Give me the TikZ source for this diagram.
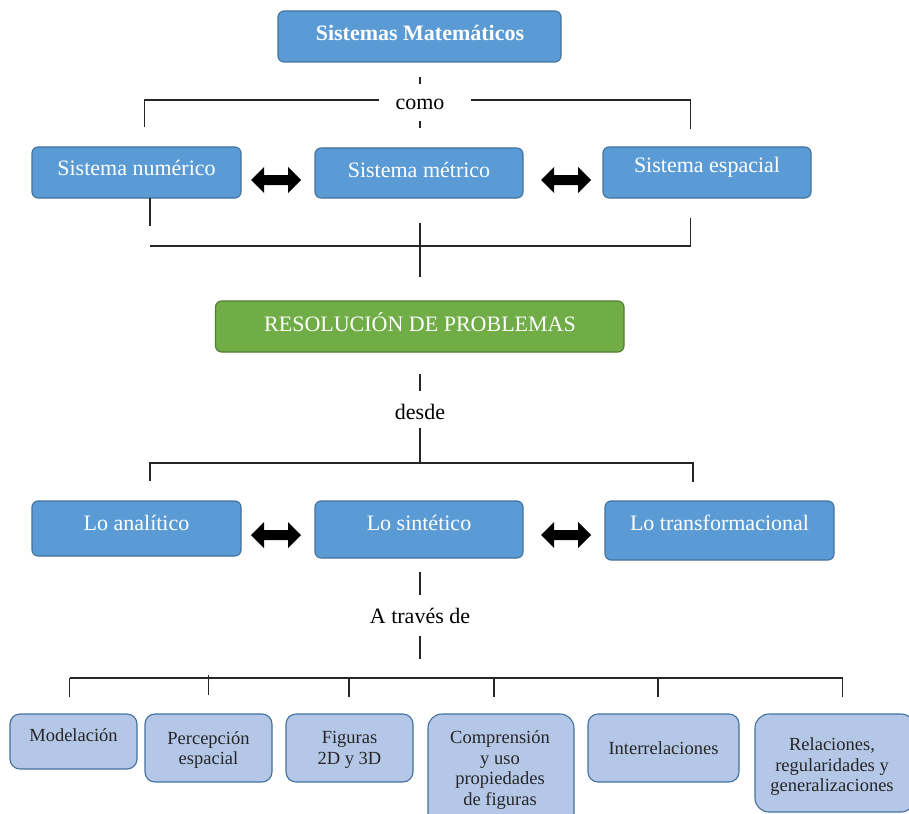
\documentclass[tikz,border=0pt]{standalone}
\usepackage{fontspec}
\setmainfont{Liberation Serif}
\usetikzlibrary{calc,fit}
\definecolor{mblue}{HTML}{5B9BD5}
\definecolor{mbord}{HTML}{41719C}
\definecolor{mgreen}{HTML}{70AD47}
\definecolor{gbord}{HTML}{507E32}
\definecolor{lblue}{HTML}{B4C7E7}
\begin{document}
\begin{tikzpicture}[x=1pt,y=-1pt,
  bx/.style={draw=mbord, fill=mblue, line width=1.1pt, rounded corners=6pt, inner sep=0pt},
  gx/.style={draw=gbord, fill=mgreen, line width=1.1pt, rounded corners=6pt, inner sep=0pt},
  lx/.style={draw=mbord, fill=lblue, line width=1.1pt, rounded corners=10pt, inner sep=0pt},
  wt/.style={text=white, font=\fontsize{22}{26}\selectfont, inner sep=0pt},
  bt/.style={text=black, font=\fontsize{22}{26}\selectfont, inner sep=0pt},
  st/.style={text=black!85, font=\fontsize{18.5}{20.5}\selectfont, align=center, inner sep=0pt},
  ln/.style={line width=1.2pt, black!85},
  dbl/.style={fill=black}
]
\useasboundingbox (0,0) rectangle (909,813);

% top box
\node[bx, fit={(278,11) (561,62)}] (T) {};
\node[wt, font=\bfseries\fontsize{22}{26}\selectfont] (Tt) at (420,33) {Sistemas Matemáticos};

% como
\coordinate (c1) at (420,77);
\coordinate (c2) at (420,84);
\draw[ln] (c1) -- (c2);
\node[bt] (como) at (420,104) {como};
\coordinate (c3) at (420,121);
\coordinate (c4) at (420,128);
\draw[ln] (c3) -- (c4);
\coordinate (hl1) at (144.5,127);
\coordinate (hl2) at (144.5,100);
\coordinate (hl3) at (379,100);
\coordinate (hr1) at (471,100);
\coordinate (hr2) at (690.5,100);
\coordinate (hr3) at (690.5,129);
\draw[ln] (hl1) -- (hl2) -- (hl3);
\draw[ln] (hr1) -- (hr2) -- (hr3);

% row 2
\node[bx, fit={(32,147) (241,198)}] (N1) {};
\node[bx, fit={(315,148) (523,198)}] (N2) {};
\node[bx, fit={(603,147) (811,198)}] (N3) {};
\node[wt] (N1t) at (136.5,168) {Sistema numérico};
\node[wt] (N2t) at (419,170) {Sistema métrico};
\node[wt] (N3t) at (707,167) {Sistema espacial};

% double arrows row 2
\foreach \cx/\cy in {276/180, 566/180, 276/535, 566/535} {
  \fill[dbl, shift={(\cx,\cy)}] (-25,0) -- (-12,-13) -- (-12,-5) -- (12,-5) -- (12,-13) -- (25,0) -- (12,13) -- (12,5) -- (-12,5) -- (-12,13) -- cycle;
}

% lines below row 2
\coordinate (d1) at (150,198);
\coordinate (d2) at (150,226);
\coordinate (d3) at (420,223);
\coordinate (d4) at (420,277);
\coordinate (d5) at (690.5,218);
\coordinate (d6) at (690.5,246);
\coordinate (d7) at (150,246);
\draw[ln] (d1) -- (d2);
\draw[ln] (d3) -- (d4);
\draw[ln] (d5) -- (d6) -- (d7);

% green
\node[gx, fit={(215.5,301) (624,352)}] (G) {};
\node[wt] (Gt) at (420,322) {RESOLUCIÓN DE PROBLEMAS};

% desde
\coordinate (e1) at (420,374);
\coordinate (e2) at (420,391);
\draw[ln] (e1) -- (e2);
\node[bt] (desde) at (420,412) {desde};
\coordinate (e3) at (420,428);
\coordinate (e4) at (420,463);
\coordinate (e5) at (150,481);
\coordinate (e6) at (150,463);
\coordinate (e7) at (693,463);
\coordinate (e8) at (693,482);
\draw[ln] (e3) -- (e4);
\draw[ln] (e5) -- (e6) -- (e7) -- (e8);

% row 3
\node[bx, fit={(32,501) (241,556)}] (L1) {};
\node[bx, fit={(315,501) (523,558)}] (L2) {};
\node[bx, fit={(605,501) (834,560)}] (L3) {};
\node[wt] (L1t) at (136.5,523) {Lo analítico};
\node[wt] (L2t) at (419,523) {Lo sintético};
\node[wt] (L3t) at (719.5,523) {Lo transformacional};

% a traves de
\coordinate (f1) at (420,572);
\coordinate (f2) at (420,595);
\draw[ln] (f1) -- (f2);
\node[bt] (atr) at (420,616) {A través de};
\coordinate (f3) at (420,636);
\coordinate (f4) at (420,659);
\draw[ln] (f3) -- (f4);
\coordinate (h0) at (69.5,678);
\coordinate (h1) at (842.5,678);
\draw[ln] (h0) -- (h1);
\foreach \tx/\ta/\tb in {69.5/678/697, 208.5/675/695, 349/678/697, 494/678/697, 658/678/697, 842.5/678/697} {
  \draw[ln] (\tx,\ta) -- (\tx,\tb);
}

% bottom boxes
\node[lx, fit={(10,714) (137,769)}] (B1) {};
\node[lx, fit={(145,714) (272,782)}] (B2) {};
\node[lx, fit={(286,714) (413,782)}] (B3) {};
\node[lx, rounded corners=14pt, fit={(428,714) (574,830)}] (B4) {};
\node[lx, fit={(588,714) (739,782)}] (B5) {};
\node[lx, rounded corners=14pt, fit={(755,714) (915,812)}] (B6) {};
\node[st] (B1t) at (73.5,735) {Modelación};
\node[st] (B2t) at (208.5,750) {Percepción\\espacial};
\node[st] (B3t) at (349.5,750) {Figuras\\2D y 3D};
\node[st] (B4t) at (500,770) {Comprensión\\y uso\\propiedades\\de figuras};
\node[st] (B5t) at (663.5,748) {Interrelaciones};
\node[st] (B6t) at (832,767) {Relaciones,\\regularidades y\\generalizaciones};
\end{tikzpicture}
\end{document}
